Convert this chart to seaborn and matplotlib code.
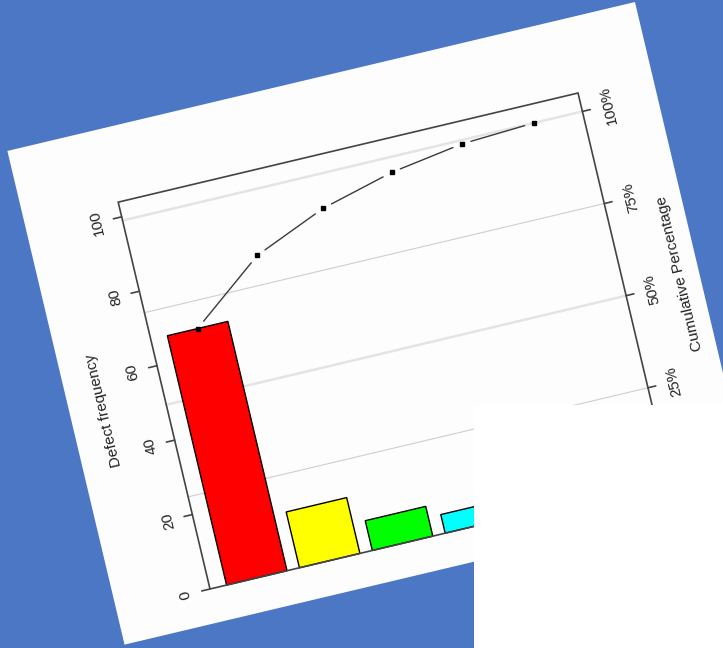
import numpy as np
import matplotlib
matplotlib.use('Agg')
import matplotlib.pyplot as plt
import matplotlib.transforms as mtransforms
from matplotlib.patches import Rectangle
import seaborn as sns

sns.set_style('white')
plt.rcParams['font.family'] = ['Liberation Sans', 'DejaVu Sans']

# pareto data
defects = ['A', 'B', 'C', 'D', 'E', 'F']
counts = [67, 15, 8, 5, 3, 1]
bar_colors = ['#ff0000', '#ffff00', '#00ff00', '#00ffff', '#0000ff', '#ff00ff']
freq_ticks = [0, 20, 40, 60, 80, 100]
pct_ticks = [0, 25, 50, 75, 100]
pct_labels = ['0%', '25%', '50%', '75%', '100%']

total = sum(counts)
cum = np.cumsum(counts)
ytop = total * 1.05

# the chart is a tilted printout on a blue background
angle = 13.35
origin = (210, 589)          # lower-left corner of the plot box in the image
box_w, box_h = 472.6, 397.6  # plot box size in px
step, first = 74.9, 48.1     # bar spacing and first bar centre in px

fig = plt.figure(figsize=(7.23, 6.48), dpi=100, facecolor='#4b77c4')
ax = fig.add_axes([0, 0, 1, 1])
ax.set_facecolor('none')

c, s = np.cos(np.radians(angle)), np.sin(np.radians(angle))
tilt = mtransforms.Affine2D(np.array([[c, -s, origin[0]],
                                      [-s, -c, origin[1]],
                                      [0, 0, 1]]))
T_box = tilt + ax.transData
T_data = mtransforms.Affine2D().scale(step, box_h / ytop).translate(first, 0) + T_box

# bars
sns.barplot(x=defects, y=counts, hue=defects, palette=bar_colors, saturation=1,
            width=0.83, edgecolor='black', linewidth=1, legend=False, ax=ax)
for p in ax.patches:
    p.set_transform(T_data)
    p.set_zorder(3)

# paper sheet
ax.add_patch(Rectangle((-96, -34.4), 645, 507.4, transform=T_box,
                       fc='#fdfdfd', ec='none', zorder=0))

# gridlines at the percentage levels
for i, p in enumerate(pct_ticks[1:]):
    v = total * p / 100 * box_h / ytop
    if i % 2 == 0:
        ax.plot([0, box_w], [v, v], transform=T_box, color='#cfcfcf', lw=0.8, zorder=1)
    else:
        ax.plot([0, box_w], [v, v], transform=T_box, color='#e4e4e4', lw=1.8, zorder=1)

# frame
ax.add_patch(Rectangle((0, 0), box_w, box_h, transform=T_box, fill=False,
                       ec='#444444', lw=1.2, zorder=4))

# left axis
for t in freq_ticks:
    v = t * box_h / ytop
    ax.plot([-8.5, 0], [v, v], transform=T_box, color='#444444', lw=1.2, zorder=4)
    ax.text(-25, v, str(t), transform=T_box, rotation=90 + angle, rotation_mode='anchor',
            ha='center', va='center', fontsize=11, color='#222222')
ax.text(-62, box_h / 2, 'Defect frequency', transform=T_box, rotation=90 + angle,
        rotation_mode='anchor', ha='center', va='center', fontsize=11, color='#222222')

# right axis
for p, lab in zip(pct_ticks, pct_labels):
    v = total * p / 100 * box_h / ytop
    ax.plot([box_w, box_w + 8], [v, v], transform=T_box, color='#444444', lw=1.2, zorder=4)
    ax.text(box_w + 27, v, lab, transform=T_box, rotation=90 + angle, rotation_mode='anchor',
            ha='center', va='center', fontsize=11, color='#222222')
ax.text(box_w + 57, box_h / 2, 'Cumulative Percentage', transform=T_box, rotation=90 + angle,
        rotation_mode='anchor', ha='center', va='center', fontsize=11, color='#222222')

# cumulative line, R style type="b" (gaps around the points)
px = first + step * np.arange(len(counts))
py = cum * box_h / ytop
gap = 9.5
for k in range(len(px) - 1):
    d = np.array([px[k + 1] - px[k], py[k + 1] - py[k]])
    d = d / np.hypot(*d)
    a = np.array([px[k], py[k]]) + gap * d
    b = np.array([px[k + 1], py[k + 1]]) - gap * d
    ax.plot([a[0], b[0]], [a[1], b[1]], transform=T_box, color='#3a3a3a', lw=1, zorder=5)
ax.plot(px, py, 's', ms=3.5, color='black', transform=T_box, zorder=6)

# white patch covering the lower right corner of the photo
ax.add_patch(Rectangle((474, 405), 249, 243, fc='white', ec='none', zorder=10))

ax.set_xlim(0, 723)
ax.set_ylim(648, 0)
ax.axis('off')

fig.savefig('out.png', dpi=100, facecolor=fig.get_facecolor())
